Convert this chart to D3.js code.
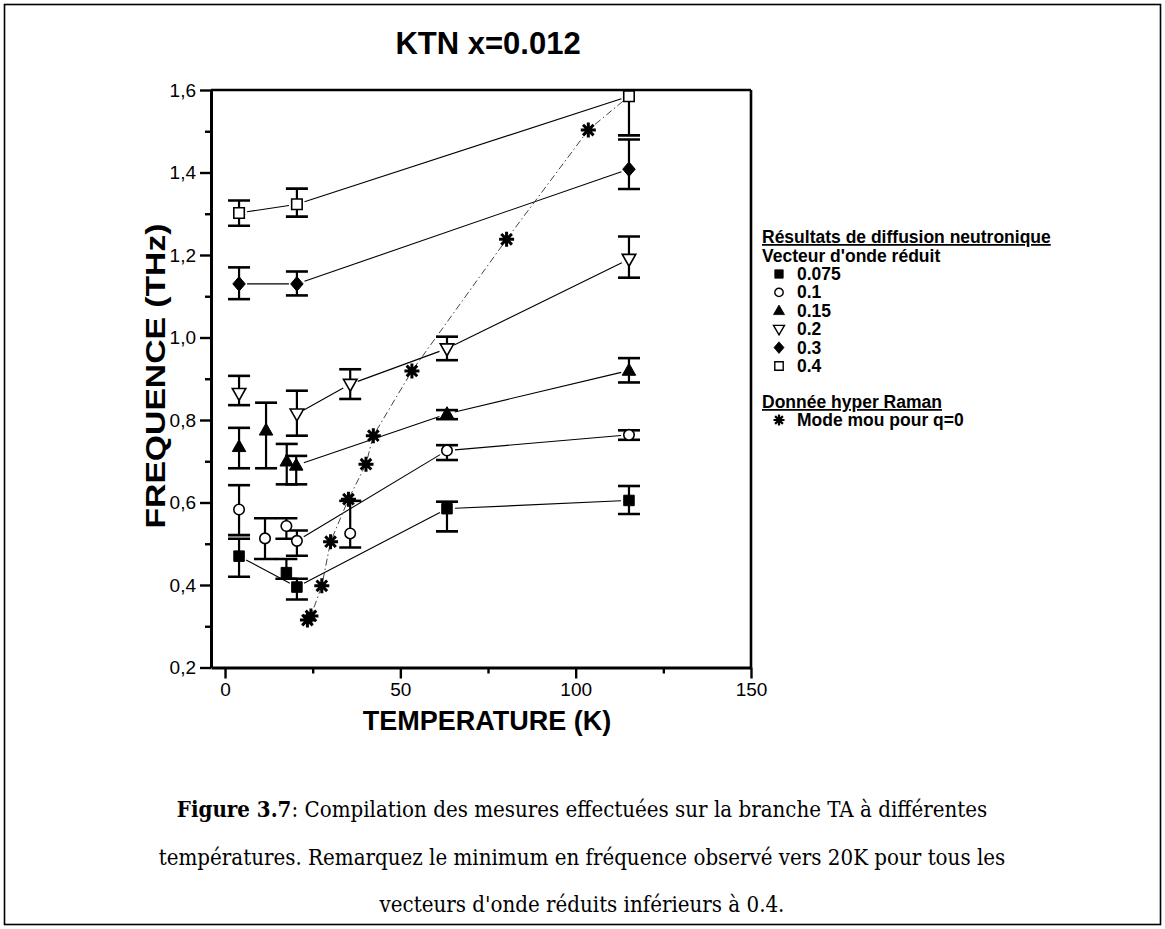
<!DOCTYPE html>
<html><head><meta charset="utf-8">
<script src="https://cdn.jsdelivr.net/npm/d3@7"></script>
<style>
html,body{margin:0;padding:0;background:#fff;}
svg{display:block;}
</style>
</head><body>
<svg id="chart" width="1165" height="929"></svg>
<script>
// ---------- DATA ----------
const title = "KTN x=0.012";
const xLabel = "TEMPERATURE (K)";
const yLabel = "FREQUENCE (THz)";
const xTicks = [0, 50, 100, 150];
const xMinorTicks = [25, 75, 125];
const yTicks = [0.2, 0.4, 0.6, 0.8, 1.0, 1.2, 1.4, 1.6];
const yMinorTicks = [0.3, 0.5, 0.7, 0.9, 1.1, 1.3, 1.5];

const legendTitle1 = "Résultats de diffusion neutronique";
const legendSubtitle = "Vecteur d'onde réduit";
const legendTitle2 = "Donnée hyper Raman";
const ramanLabel = "Mode mou pour q=0";

// q = 0.075 (filled square)
const tempQ075 = [4, 17.5, 20.5, 63.3, 115.2];
const freqQ075 = [0.47, 0.43, 0.395, 0.585, 0.605];
const lowQ075  = [0.42, 0.415, 0.365, 0.53, 0.572];
const highQ075 = [0.512, 0.463, 0.415, 0.602, 0.64];
const linkQ075 = [0, 2, 3, 4];

// q = 0.1 (open circle)
const tempQ1 = [4, 11.4, 17.5, 20.5, 35.7, 63.3, 115.2];
const freqQ1 = [0.583, 0.513, 0.543, 0.507, 0.525, 0.726, 0.764];
const lowQ1  = [0.521, 0.463, 0.512, 0.471, 0.491, 0.703, 0.752];
const highQ1 = [0.642, 0.562, 0.562, 0.532, 0.604, 0.739, 0.775];
const linkQ1 = [3, 5, 6];

// q = 0.15 (filled triangle up)
const tempQ15 = [4, 11.7, 17.6, 20.3, 63.3, 115.2];
const freqQ15 = [0.735, 0.775, 0.70, 0.69, 0.815, 0.92];
const lowQ15  = [0.683, 0.683, 0.644, 0.644, 0.802, 0.891];
const highQ15 = [0.781, 0.842, 0.742, 0.713, 0.824, 0.95];
const linkQ15 = [3, 4, 5];

// q = 0.2 (open triangle down)
const tempQ2 = [4, 20.5, 35.7, 63.3, 115.2];
const freqQ2 = [0.865, 0.815, 0.887, 0.973, 1.19];
const lowQ2  = [0.836, 0.762, 0.851, 0.945, 1.145];
const highQ2 = [0.907, 0.871, 0.923, 1.002, 1.245];
const linkQ2 = [1, 2, 3, 4];

// q = 0.3 (filled diamond)
const tempQ3 = [4, 20.5, 115.2];
const freqQ3 = [1.13, 1.13, 1.408];
const lowQ3  = [1.093, 1.102, 1.36];
const highQ3 = [1.17, 1.16, 1.48];
const linkQ3 = [0, 1, 2];

// q = 0.4 (open square)
const tempQ4 = [4, 20.5, 115.2];
const freqQ4 = [1.302, 1.323, 1.585];
const lowQ4  = [1.271, 1.293, 1.49];
const highQ4 = [1.332, 1.361, 1.68];
const linkQ4 = [0, 1, 2];

// Hyper Raman soft mode (stars)
const ramanT = [23.5, 24.5, 27.6, 30.1, 35.2, 40.2, 42.3, 53.3, 80.3, 103.6];
const ramanF = [0.315, 0.325, 0.398, 0.505, 0.608, 0.693, 0.762, 0.919, 1.238, 1.503];

const series = [
  {name: "0.075", shape: "square",  filled: true,  T: tempQ075, F: freqQ075, lo: lowQ075, hi: highQ075, link: linkQ075},
  {name: "0.1",   shape: "circle",  filled: false, T: tempQ1,   F: freqQ1,   lo: lowQ1,   hi: highQ1,   link: linkQ1},
  {name: "0.15",  shape: "triUp",   filled: true,  T: tempQ15,  F: freqQ15,  lo: lowQ15,  hi: highQ15,  link: linkQ15},
  {name: "0.2",   shape: "triDown", filled: false, T: tempQ2,   F: freqQ2,   lo: lowQ2,   hi: highQ2,   link: linkQ2},
  {name: "0.3",   shape: "diamond", filled: true,  T: tempQ3,   F: freqQ3,   lo: lowQ3,   hi: highQ3,   link: linkQ3},
  {name: "0.4",   shape: "square",  filled: false, T: tempQ4,   F: freqQ4,   lo: lowQ4,   hi: highQ4,   link: linkQ4}
];

// ---------- LAYOUT ----------
const svg = d3.select("#chart");
const plot = {left: 211, right: 751, top: 90, bottom: 667.5};
const x = d3.scaleLinear().domain([-4, 150]).range([plot.left, plot.right]);
const y = d3.scaleLinear().domain([0.2, 1.6]).range([plot.bottom, plot.top]);
const sans = "'Liberation Sans', Arial, Helvetica, sans-serif";
const serif = "'DejaVu Serif Condensed', 'DejaVu Serif', serif";

// outer frame
svg.append("rect").attr("x", 4.5).attr("y", 4.5).attr("width", 1156).attr("height", 920)
  .attr("fill", "none").attr("stroke", "#000").attr("stroke-width", 1.6);

// title
svg.append("text").attr("x", 488).attr("y", 54).attr("text-anchor", "middle")
  .attr("font-family", sans).attr("font-weight", "bold").attr("font-size", 31).text(title);

// clip
svg.append("defs").append("clipPath").attr("id", "clip")
  .append("rect").attr("x", plot.left).attr("y", plot.top)
  .attr("width", plot.right - plot.left).attr("height", plot.bottom - plot.top);

// axes
function styleAxis(g, fs) {
  g.selectAll("path.domain").attr("stroke-width", 3);
  g.selectAll(".tick line").attr("stroke-width", 2.4);
  g.selectAll(".tick text").attr("font-family", sans).attr("font-size", fs).attr("fill", "#000");
}
const yAxis = svg.append("g").attr("transform", `translate(${plot.left},0)`)
  .call(d3.axisLeft(y).tickValues(yTicks).tickSize(11).tickSizeOuter(0).tickPadding(4)
    .tickFormat(d => d.toFixed(1).replace(".", ",")));
styleAxis(yAxis, 19);
const yMinor = svg.append("g").attr("transform", `translate(${plot.left},0)`)
  .call(d3.axisLeft(y).tickValues(yMinorTicks).tickSize(6).tickSizeOuter(0).tickFormat(""));
styleAxis(yMinor, 19);
yMinor.select("path.domain").remove();

const xAxis = svg.append("g").attr("transform", `translate(0,${plot.bottom})`)
  .call(d3.axisBottom(x).tickValues(xTicks).tickSize(11).tickSizeOuter(0).tickPadding(4));
styleAxis(xAxis, 19);
const xMinor = svg.append("g").attr("transform", `translate(0,${plot.bottom})`)
  .call(d3.axisBottom(x).tickValues(xMinorTicks).tickSize(6).tickSizeOuter(0).tickFormat(""));
styleAxis(xMinor, 19);
xMinor.select("path.domain").remove();

// frame top & right
svg.append("line").attr("x1", plot.left).attr("x2", plot.right).attr("y1", plot.top).attr("y2", plot.top)
  .attr("stroke", "#000").attr("stroke-width", 2.6);
svg.append("line").attr("x1", plot.right).attr("x2", plot.right).attr("y1", plot.top).attr("y2", plot.bottom)
  .attr("stroke", "#000").attr("stroke-width", 2.6);

// axis labels
svg.append("text").attr("x", 487).attr("y", 730).attr("text-anchor", "middle")
  .attr("font-family", sans).attr("font-weight", "bold").attr("font-size", 27).text(xLabel);
svg.append("text").attr("transform", "translate(165,376) rotate(-90)").attr("text-anchor", "middle")
  .attr("font-family", sans).attr("font-weight", "bold").attr("font-size", 28)
  .attr("textLength", 305).attr("lengthAdjust", "spacingAndGlyphs").text(yLabel);

// ---------- MARKS ----------
const marks = svg.append("g").attr("clip-path", "url(#clip)");

function shapePath(shape, s) {
  switch (shape) {
    case "square": return `M${-s/2},${-s/2}h${s}v${s}h${-s}Z`;
    case "circle": { const r = s/2; return `M${r},0A${r},${r} 0 1,1 ${-r},0A${r},${r} 0 1,1 ${r},0Z`; }
    case "triUp": { const h = s*0.95; return `M0,${-h*0.6}L${s/2+0.5},${h*0.4}L${-s/2-0.5},${h*0.4}Z`; }
    case "triDown": { const h = s*0.95; return `M0,${h*0.6}L${s/2+0.5},${-h*0.4}L${-s/2-0.5},${-h*0.4}Z`; }
    case "diamond": return `M0,${-s*0.58}L${s/2},0L0,${s*0.58}L${-s/2},0Z`;
    case "star": { const r = s/2, d = r*0.7071;
      return `M${-r},0L${r},0M0,${-r}L0,${r}M${-d},${-d}L${d},${d}M${-d},${d}L${d},${-d}`; }
  }
}
const markerSize = {square: 10.5, circle: 10.5, triUp: 12.5, triDown: 12.5, diamond: 12.5};

// connecting lines (shortened near the markers)
const gap = 8;
function drawSegments(g, pts, sw, color) {
  for (let i = 0; i < pts.length - 1; i++) {
    const [x1, y1] = pts[i], [x2, y2] = pts[i+1];
    const dx = x2 - x1, dy = y2 - y1, L = Math.hypot(dx, dy);
    if (L < 2*gap) continue;
    const ux = dx / L, uy = dy / L;
    g.append("line")
      .attr("x1", x1 + ux*gap).attr("y1", y1 + uy*gap)
      .attr("x2", x2 - ux*gap).attr("y2", y2 - uy*gap)
      .attr("stroke", color).attr("stroke-width", sw);
  }
}
const lineG = marks.append("g");
series.forEach(s => {
  const pts = s.link.map(i => [x(s.T[i]), y(s.F[i])]);
  drawSegments(lineG, pts, 1.1, "#000");
});
// Raman dash-dot curve (ends on the q=0.4 point at 115 K)
const ramanPts = ramanT.map((t, i) => [x(t), y(ramanF[i])]);
ramanPts.push([x(tempQ4[2]), y(freqQ4[2])]);
marks.append("path")
  .attr("d", d3.line()(ramanPts))
  .attr("fill", "none").attr("stroke", "#444").attr("stroke-width", 1)
  .attr("stroke-dasharray", "7,3,1.5,3");

// error bars
const capW = 22;
const errG = marks.append("g").attr("stroke", "#000");
series.forEach(s => {
  s.T.forEach((t, i) => {
    const cx = x(t);
    errG.append("line").attr("x1", cx).attr("x2", cx).attr("y1", y(s.lo[i])).attr("y2", y(s.hi[i]))
      .attr("stroke-width", 2.2);
    [s.lo[i], s.hi[i]].forEach(v => {
      errG.append("line").attr("x1", cx - capW/2).attr("x2", cx + capW/2)
        .attr("y1", y(v)).attr("y2", y(v)).attr("stroke-width", 2.6);
    });
  });
});

// markers
series.forEach(s => {
  marks.append("g").selectAll("path").data(s.T).join("path")
    .attr("transform", (t, i) => `translate(${x(t)},${y(s.F[i])})`)
    .attr("d", shapePath(s.shape, markerSize[s.shape]))
    .attr("fill", s.filled ? "#000" : "#fff")
    .attr("stroke", "#000").attr("stroke-width", s.filled ? 1 : 1.6);
});
marks.append("g").selectAll("path").data(ramanT).join("path")
  .attr("transform", (t, i) => `translate(${x(t)},${y(ramanF[i])})`)
  .attr("d", shapePath("star", 15))
  .attr("fill", "none").attr("stroke", "#000").attr("stroke-width", 3);

// ---------- LEGEND ----------
const lg = svg.append("g").attr("font-family", sans).attr("font-size", 17.5).attr("font-weight", "bold");
lg.append("text").attr("x", 762).attr("y", 243).text(legendTitle1).attr("text-decoration", "underline");
lg.append("text").attr("x", 762).attr("y", 262).text(legendSubtitle);
const legY0 = 274, legDy = 18.4;
series.forEach((s, i) => {
  const cy = legY0 + i*legDy;
  lg.append("path").attr("transform", `translate(779,${cy})`)
    .attr("d", shapePath(s.shape, markerSize[s.shape]*0.8))
    .attr("fill", s.filled ? "#000" : "#fff").attr("stroke", "#000").attr("stroke-width", s.filled ? 0.8 : 1.4);
  lg.append("text").attr("x", 797).attr("y", cy + 6).text(s.name);
});
lg.append("text").attr("x", 762).attr("y", 408).text(legendTitle2).attr("text-decoration", "underline");
lg.append("path").attr("transform", "translate(779,420)").attr("d", shapePath("star", 11))
  .attr("fill", "none").attr("stroke", "#000").attr("stroke-width", 2.2);
lg.append("text").attr("x", 797).attr("y", 426).text(ramanLabel);

// ---------- CAPTION ----------
const cap = svg.append("g").attr("font-family", serif).attr("text-anchor", "middle").attr("fill", "#000");
const c1 = cap.append("text").attr("x", 582).attr("y", 817);
c1.append("tspan").attr("font-weight", "bold").text("Figure 3.7");
c1.append("tspan").text(": Compilation des mesures effectuées sur la branche TA à différentes");
const c2 = cap.append("text").attr("x", 582).attr("y", 865)
  .text("températures. Remarquez le minimum en fréquence observé vers 20K pour tous les");
cap.append("text").attr("x", 582).attr("y", 912)
  .text("vecteurs d'onde réduits inférieurs à 0.4.");
cap.attr("font-size", 20);
const len = c2.node().getComputedTextLength();
cap.attr("font-size", 20 * 847 / len);
</script>
</body></html>
